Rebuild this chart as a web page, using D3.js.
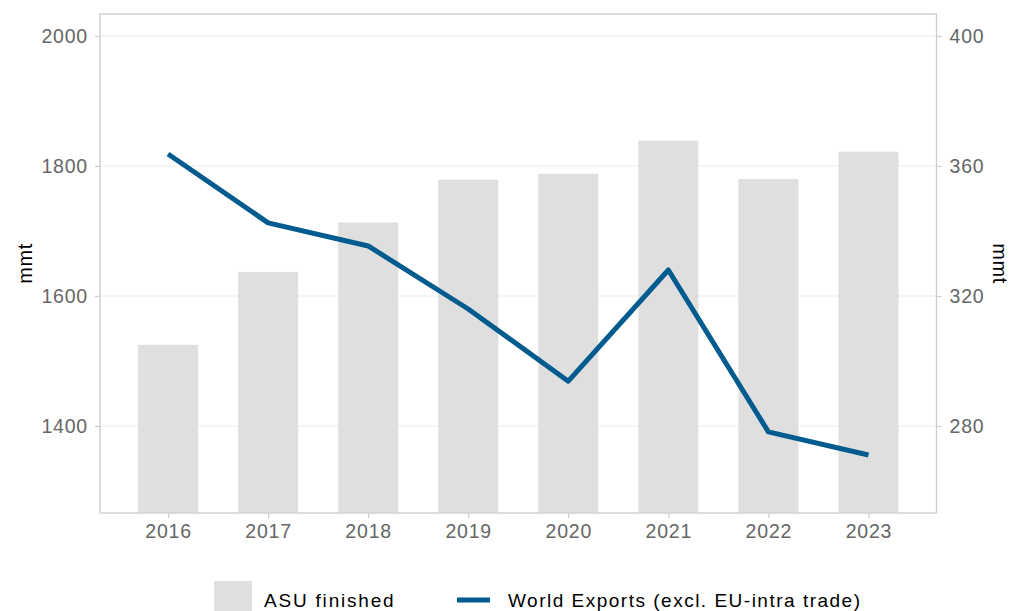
<!DOCTYPE html>
<html><head><meta charset="utf-8">
<script src="https://cdn.jsdelivr.net/npm/d3@7"></script>
<style>body{margin:0;background:#fff}svg{display:block;font-family:"Liberation Sans",Arial,sans-serif}</style>
</head><body><svg id="c" width="1012" height="611"></svg>
<script>
const years = ["2016","2017","2018","2019","2020","2021","2022","2023"];
const asuFinished = [1525, 1637, 1713, 1779, 1788, 1839, 1780, 1822];
const worldExports = [363.7, 342.5, 335.4, 316.0, 293.8, 328.0, 278.2, 271.1];
const leftTicks = [1400, 1600, 1800, 2000];
const rightTicks = [280, 320, 360, 400];
const seriesNames = ["ASU finished", "World Exports (excl. EU-intra trade)"];

const svg = d3.select("#c");
const L = 100, R = 936.5, T = 14, B = 513;
const x = d3.scaleLinear().domain([-0.68, years.length - 1 + 0.68]).range([L, R]);
const yL = d3.scaleLinear().domain([1266.2, 2033.8]).range([B, T]);
const yR = d3.scaleLinear().domain([253.24, 406.76]).range([B, T]);
const grey = "#666666";

// gridlines
svg.append("g").selectAll("line").data(leftTicks).join("line")
  .attr("x1", L).attr("x2", R).attr("y1", d => yL(d)).attr("y2", d => yL(d))
  .attr("stroke", "#ebebeb").attr("stroke-width", 1.2);

// bars
const bw = 0.6;
svg.append("g").selectAll("rect").data(asuFinished).join("rect")
  .attr("x", (d, i) => x(i - bw / 2)).attr("width", x(bw) - x(0))
  .attr("y", d => yL(d)).attr("height", d => B - yL(d))
  .attr("fill", "#dfdfdf");

// line
svg.append("path").datum(worldExports)
  .attr("d", d3.line().x((d, i) => x(i)).y(d => yR(d)))
  .attr("fill", "none").attr("stroke", "#005b8f").attr("stroke-width", 5)
  .attr("stroke-linejoin", "round");

// panel border
svg.append("rect").attr("x", L).attr("y", T).attr("width", R - L).attr("height", B - T)
  .attr("fill", "none").attr("stroke", "#cccccc").attr("stroke-width", 1.3);

// axes
function styleAxis(g) {
  g.select(".domain").remove();
  g.selectAll(".tick line").attr("stroke", "#cccccc").attr("stroke-width", 1.2);
  g.selectAll(".tick text").attr("fill", grey).attr("font-size", 19.5)
    .attr("letter-spacing", 0.8).attr("font-family", "Liberation Sans, Arial, sans-serif");
}
svg.append("g").attr("transform", `translate(${L},0)`)
  .call(d3.axisLeft(yL).tickValues(leftTicks).tickSize(5).tickPadding(7).tickFormat(d3.format("d")))
  .call(styleAxis);
svg.append("g").attr("transform", `translate(${R},0)`)
  .call(d3.axisRight(yR).tickValues(rightTicks).tickSize(5).tickPadding(8).tickFormat(d3.format("d")))
  .call(styleAxis);
svg.append("g").attr("transform", `translate(0,${B})`)
  .call(d3.axisBottom(x).tickValues(d3.range(years.length)).tickSize(5).tickPadding(6).tickFormat(i => years[i]))
  .call(styleAxis);

// axis titles
svg.append("text").attr("transform", `translate(32,${(T + B) / 2}) rotate(-90)`)
  .attr("text-anchor", "middle").attr("font-size", 20).attr("letter-spacing", 0.5).attr("fill", "#000").text("mmt");
svg.append("text").attr("transform", `translate(993,${(T + B) / 2}) rotate(90)`)
  .attr("text-anchor", "middle").attr("font-size", 20).attr("letter-spacing", 0.5).attr("fill", "#000").text("mmt");

// legend
const lg = svg.append("g");
lg.append("rect").attr("x", 214).attr("y", 581).attr("width", 38).attr("height", 30).attr("fill", "#dfdfdf");
lg.append("text").attr("x", 264).attr("y", 607).attr("font-size", 19).attr("letter-spacing", 1.8).attr("fill", "#000").text(seriesNames[0]);
lg.append("line").attr("x1", 457).attr("x2", 490).attr("y1", 600).attr("y2", 600)
  .attr("stroke", "#005b8f").attr("stroke-width", 5);
lg.append("text").attr("x", 508).attr("y", 607).attr("font-size", 19).attr("letter-spacing", 1.5).attr("fill", "#000").text(seriesNames[1]);
</script></body></html>
